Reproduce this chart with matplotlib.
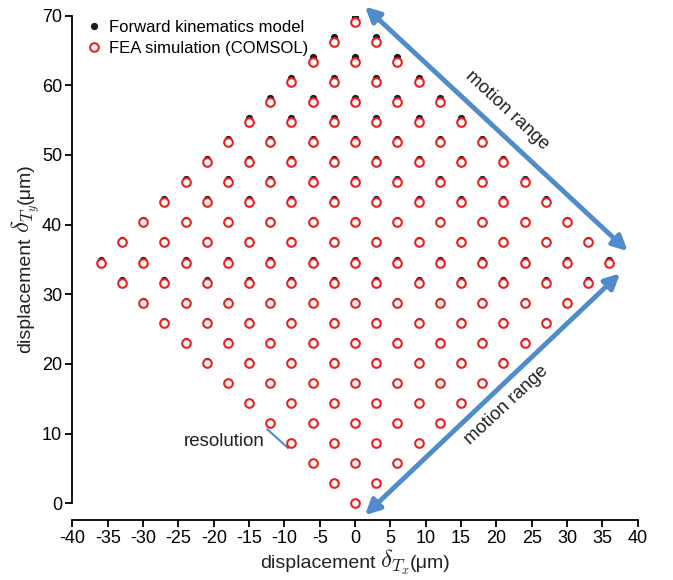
import matplotlib
matplotlib.use('Agg')
import matplotlib.pyplot as plt
import numpy as np

plt.rcParams['font.family'] = ['Liberation Sans', 'DejaVu Sans']
plt.rcParams['mathtext.fontset'] = 'cm'
plt.rcParams['axes.unicode_minus'] = False

# lattice columns (x, um) and row levels (y, um)
x_levels = [-36, -33, -30, -27, -24, -21, -18, -15, -12, -9, -6, -3, 0,
            3, 6, 9, 12, 15, 18, 21, 24, 27, 30, 33, 36]
fea_y = [0, 2.88, 5.76, 8.64, 11.52, 14.4, 17.28, 20.16, 23.04, 25.92,
         28.8, 31.68, 34.56, 37.44, 40.32, 43.2, 46.08, 48.96, 51.84,
         54.72, 57.6, 60.48, 63.36, 66.24, 69.12]
model_y = [0, 2.91, 5.82, 8.73, 11.64, 14.55, 17.45, 20.36, 23.27, 26.18,
           29.09, 32.0, 34.91, 37.82, 40.73, 43.64, 46.55, 49.45, 52.36,
           55.27, 58.18, 61.09, 64.0, 66.91, 69.82]

# build the diamond: column i, row j with |i| <= j <= 24-|i| and i+j even
n = len(x_levels)
ii, jj = np.meshgrid(np.arange(n) - 12, np.arange(n))
mask = (np.abs(ii) <= jj) & (jj <= 24 - np.abs(ii)) & ((ii + jj) % 2 == 0)
xs = np.array(x_levels)[ii[mask] + 12]
ys_fea = np.array(fea_y)[jj[mask]]
ys_model = np.array(model_y)[jj[mask]]

blue = '#508bcb'
txt = '#222222'

fig = plt.figure(figsize=(6.73, 5.8), dpi=100)
ax = fig.add_axes([0.1077, 0.1034, 0.8398, 0.8696])

ax.plot(xs, ys_model, 'o', color='#1a1a1a', markersize=4.2, linestyle='none',
        label='Forward kinematics model', zorder=3)
ax.plot(xs, ys_fea, 'o', markerfacecolor='white', markeredgecolor='#e8201e',
        markeredgewidth=1.5, markersize=6.2, linestyle='none',
        label='FEA simulation (COMSOL)', zorder=4)

ax.set_xlim(-40, 40)
ax.set_ylim(-2.4, 70)
ax.set_xticks(np.arange(-40, 41, 5))
ax.set_yticks(np.arange(0, 71, 10))
ax.spines['top'].set_visible(False)
ax.spines['right'].set_visible(False)
ax.spines['left'].set_bounds(0, 70)
ax.spines['left'].set_linewidth(1.3)
ax.spines['bottom'].set_linewidth(1.3)
ax.tick_params(direction='out', length=5, width=1.3, labelsize=13, pad=2.5)

ax.legend(loc='upper left', bbox_to_anchor=(0.012, 1.004), frameon=False,
          fontsize=12, handletextpad=0.4, borderaxespad=0,
          labelspacing=0.35, handlelength=1.0)

# axis labels built from pieces so the delta can be larger than the text
lab_size = 14
math_size = 18
t1 = fig.text(260 / 673, 12 / 580, 'displacement', fontsize=lab_size,
              ha='left', va='baseline', color=txt)
t2 = ax.annotate('$\\delta_{T_x}$', xy=(1, 12), xycoords=(t1, 'figure pixels'),
                 xytext=(3, 0), textcoords='offset points',
                 fontsize=math_size, ha='left', va='baseline', color=txt)
ax.annotate('(μm)', xy=(1, 12), xycoords=(t2, 'figure pixels'),
            fontsize=lab_size, ha='left', va='baseline', color=txt)

s1 = fig.text(30 / 673, 227 / 580, 'displacement', fontsize=lab_size,
              rotation=90, rotation_mode='anchor', ha='left', va='baseline',
              color=txt)
s2 = ax.annotate('$\\delta_{T_y}$', xy=(30, 1), xycoords=('figure pixels', s1),
                 xytext=(0, 3), textcoords='offset points',
                 fontsize=math_size, rotation=90, rotation_mode='anchor',
                 ha='left', va='baseline', color=txt)
ax.annotate('(μm)', xy=(30, 1), xycoords=('figure pixels', s2),
            fontsize=lab_size, rotation=90, rotation_mode='anchor',
            ha='left', va='baseline', color=txt)

# motion range arrows
arrow_kw = dict(arrowstyle='<|-|>', color=blue, lw=3.5, mutation_scale=22,
                shrinkA=0, shrinkB=0)
ax.annotate('', xy=(1.4, 71.3), xytext=(38.6, 36.2),
            arrowprops=arrow_kw, annotation_clip=False)
ax.annotate('', xy=(1.4, -1.7), xytext=(37.5, 33.0),
            arrowprops=arrow_kw, annotation_clip=False)
ax.text(21.5, 56.4, 'motion range', rotation=-43, fontsize=13.2,
        ha='center', va='center', color=txt)
ax.text(21.4, 14.1, 'motion range', rotation=43, fontsize=13.2,
        ha='center', va='center', color=txt)

# resolution marker
ax.plot([-12.4, -9.5], [10.6, 7.95], color=blue, lw=1.5)
ax.text(-12.8, 8.9, 'resolution', fontsize=13.5, ha='right', va='center',
        color=txt)

fig.savefig('out.png', dpi=100)
